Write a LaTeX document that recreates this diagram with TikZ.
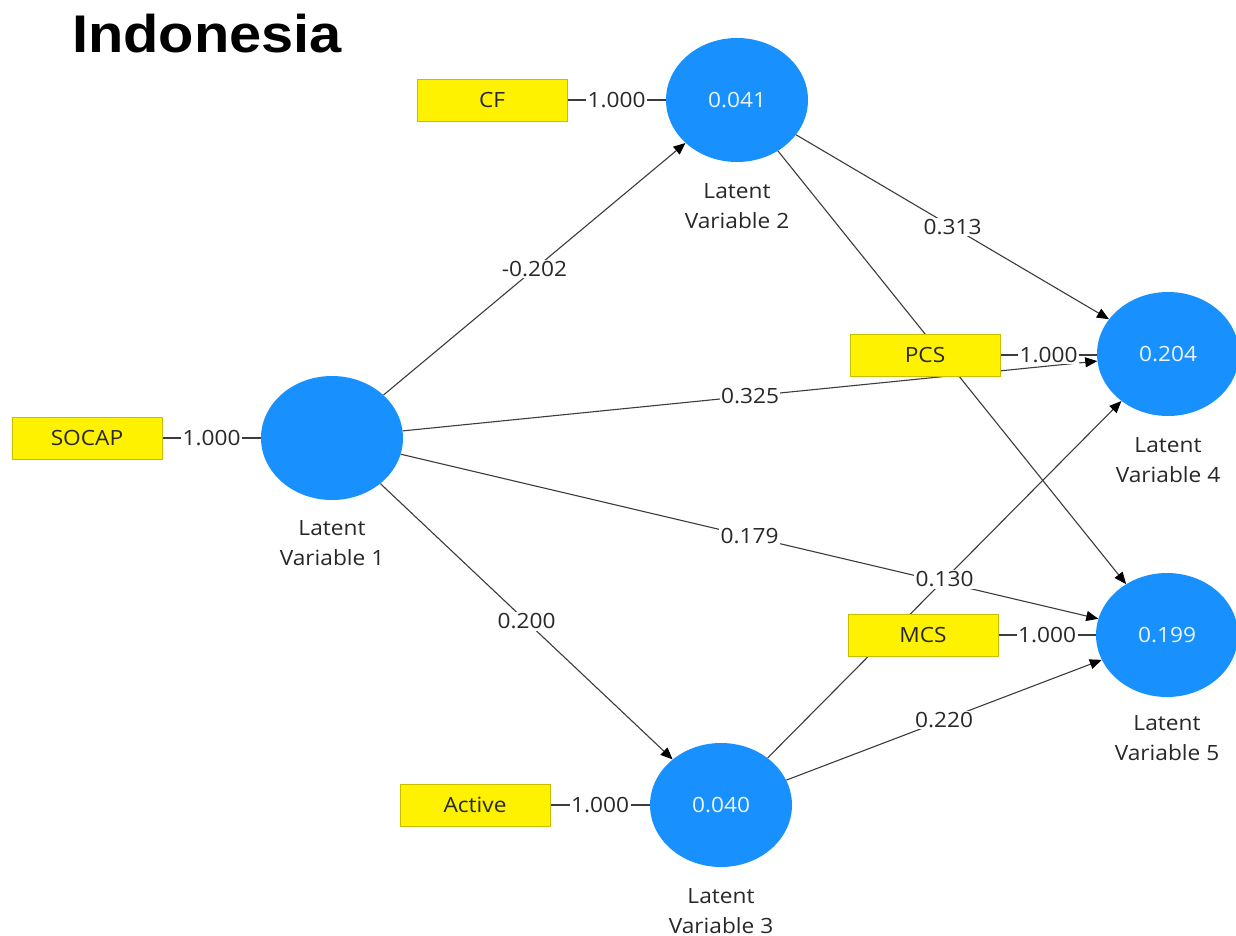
\documentclass[tikz,border=0pt]{standalone}
\usepackage{fontspec}
\setmainfont{Open Sans}[FakeStretch=1.08]
\newfontfamily\titlefont{Liberation Sans}[FakeStretch=1.09]
\usetikzlibrary{arrows.meta,shapes.geometric}
\definecolor{lvblue}{RGB}{24,145,255}
\definecolor{ybord}{RGB}{200,190,0}
\definecolor{txt}{RGB}{40,40,40}
\definecolor{lgray}{RGB}{60,60,60}
\pgfdeclarelayer{bg}
\pgfsetlayers{bg,main}
\begin{document}
\begin{tikzpicture}[x=1pt,y=-1pt,
  lv/.style={ellipse, fill=lvblue, minimum width=142pt, minimum height=124pt, inner sep=0pt,
    text={rgb,255:red,235;green,243;blue,255}, font=\fontsize{21}{25}\selectfont},
  ind/.style={rectangle, fill=yellow, draw=ybord, line width=0.8pt, minimum width=150pt,
    minimum height=42pt, inner sep=0pt, text=txt, font=\fontsize{21}{25}\selectfont},
  lvcap/.style={align=center, text=txt, inner sep=0pt, font=\fontsize{21}{30}\selectfont},
  pth/.style={draw=lgray, line width=1.1pt, -{Triangle[length=12pt,width=10pt,color=black]}},
  indline/.style={draw=lgray, line width=1.1pt},
  coef/.style={fill=white, inner sep=1.5pt, text=txt, font=\fontsize{21}{25}\selectfont}]
\useasboundingbox (0,0) rectangle (1236,936);

\node[anchor=base west, inner sep=0pt, font=\titlefont\bfseries\fontsize{53}{60}\selectfont] (title) at (72,53) {Indonesia};

% latent variables
\node[lv] (lv1) at (332,438) {};
\node[lv] (lv2) at (737,100) {0.041};
\node[lv] (lv3) at (721,805) {0.040};
\node[lv] (lv4) at (1168,354) {0.204};
\node[lv] (lv5) at (1167,635) {0.199};

% captions
\node[lvcap] (c1) at (332,543) {Latent\\Variable 1};
\node[lvcap] (c2) at (737,206) {Latent\\Variable 2};
\node[lvcap] (c3) at (721,911) {Latent\\Variable 3};
\node[lvcap] (c4) at (1168,460) {Latent\\Variable 4};
\node[lvcap] (c5) at (1167,738) {Latent\\Variable 5};

% indicators
\node[ind] (socap) at (87,438) {SOCAP};
\node[ind] (cf) at (492,100) {CF};
\node[ind] (active) at (475,805) {Active};
\node[ind] (pcs) at (925,355) {PCS};
\node[ind] (mcs) at (923,635) {MCS};

\begin{pgfonlayer}{bg}
\fill[white] (0,0) rectangle (1236,936);
\draw[pth] (lv1) -- node[coef, pos=0.5] {0.179} (lv5);
\draw[pth] (lv1) -- node[coef, pos=0.5] {0.325} (lv4);
\draw[pth] (lv2) -- (lv5);
\draw[pth] (lv3) -- node[coef, pos=0.5] {0.130} (lv4);
\draw[pth] (lv1) -- node[coef, pos=0.5] {-0.202} (lv2);
\draw[pth] (lv1) -- node[coef, pos=0.5] {0.200} (lv3);
\draw[pth] (lv2) -- node[coef, pos=0.5] {0.313} (lv4);
\draw[pth] (lv3) -- node[coef, pos=0.5] {0.220} (lv5);
\draw[indline] (socap.east) -- node[coef] {1.000} (lv1.west);
\draw[indline] (cf.east) -- node[coef] {1.000} (lv2.west);
\draw[indline] (active.east) -- node[coef] {1.000} (lv3.west);
\draw[indline] (pcs.east) -- node[coef] {1.000} (pcs.east -| lv4.west);
\draw[indline] (mcs.east) -- node[coef] {1.000} (lv5.west);
\end{pgfonlayer}
\end{tikzpicture}
\end{document}
